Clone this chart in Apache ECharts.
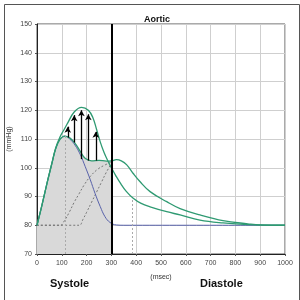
<!DOCTYPE html>
<html>
<head>
<meta charset="utf-8">
<script src="https://cdn.jsdelivr.net/npm/echarts@6/dist/echarts.min.js"></script>
<style>
  html, body { margin: 0; padding: 0; background: #fff; }
  #chart { width: 300px; height: 300px; }
</style>
</head>
<body>
<div id="chart"></div>
<script>
// pressure curves, [msec, mmHg]
const lowerCurve = [[0,80],[20,87],[40,94.5],[60,101.5],[75,106.5],[92,109.8],[112,111],[132,110.4],[153,108.6],[175,105.6],[195,103.2],[220,102.4],[250,102.6],[280,102.3],[300,102.4],[320,102.8],[340,102.4],[362,101],[388,98],[415,95.2],[456,91.7],[523,88.2],[577,85.8],[657,83.6],[750,81.6],[850,80.5],[900,80.1],[1000,80]]
const tallCurve = [[0,80],[20,87],[40,94.5],[60,101.5],[75,106.8],[93,110.8],[110,113.4],[124,115.6],[150,119.4],[180,121],[207,120],[225,117.5],[240,113.4],[255,109],[270,105.4],[288,102],[300,100],[318,97.2],[335,94.8],[360,91.8],[388,89.4],[420,87.6],[456,86.4],[523,84.7],[577,83.6],[657,81.8],[750,80.8],[850,80.2],[1000,80]]
const forwardWave = [[0,80],[20,87],[40,94.5],[60,101.5],[75,106.5],[92,109.8],[112,111],[132,110],[153,107.9],[175,104.5],[194,100.5],[215,95.8],[234,91.1],[255,86.5],[274,83],[294,81],[320,80.1],[350,80],[1000,80]]
const reflectedA = [[0,80],[95,80],[110,81.5],[130,84.5],[150,88],[170,91],[190,94],[215,97],[245,99.5],[275,101],[300,102]]
const reflectedB = [[0,80],[170,80],[185,82],[200,84.5],[220,88],[240,91.5],[260,95],[280,98.5],[300,101.5]]
const shaded = lowerCurve.filter(p => p[0] <= 300)

// arrows from lower curve up to the tall curve
const arrowX = [124, 150, 179, 207, 237]
const arrowBase = [110.5, 108.8, 103, 102.5, 102.5]
const arrowTip = [114.3, 118.3, 120, 118.6, 112.5]

// dotted markers
const markX = [115, 384]
const markTop = [111, 89.4]

const green = '#2f9a72'
const blue = '#5862aa'
const font = 'Liberation Sans, Arial, sans-serif'

const chart = echarts.init(document.getElementById('chart'))
chart.setOption({
  animation: false,
  backgroundColor: '#fff',
  title: {
    text: 'Aortic',
    left: 152,
    top: 10,
    textAlign: 'center',
    textStyle: { fontFamily: font, fontSize: 9, fontWeight: 'bold', color: '#111' }
  },
  grid: {
    left: 37, right: 15, top: 24, bottom: 46,
    outerBoundsMode: 'none', containLabel: false,
    show: true, borderColor: '#555', borderWidth: 1
  },
  xAxis: {
    type: 'value', min: 0, max: 1000, interval: 100,
    name: '(msec)', nameLocation: 'middle', nameGap: 20, nameMoveOverlap: false,
    nameTextStyle: { fontFamily: font, fontSize: 7, color: '#333' },
    axisLine: { lineStyle: { color: '#222' } },
    axisTick: { length: 2, lineStyle: { color: '#555' } },
    axisLabel: { fontFamily: font, fontSize: 7, color: '#444', margin: 6, formatter: v => String(v) },
    splitLine: { lineStyle: { color: '#cfcfcf' } }
  },
  yAxis: {
    type: 'value', min: 70, max: 150, interval: 10,
    name: '(mmHg)', nameLocation: 'middle', nameGap: 24, nameRotate: 90, nameMoveOverlap: false,
    nameTextStyle: { fontFamily: font, fontSize: 7, color: '#333' },
    axisLine: { show: true, lineStyle: { color: '#222' } },
    axisTick: { show: true, length: 2, lineStyle: { color: '#555' } },
    axisLabel: { fontFamily: font, fontSize: 7, color: '#444', margin: 5 },
    splitLine: { lineStyle: { color: '#cfcfcf' } }
  },
  series: [
    {
      type: 'line', data: shaded, smooth: 0.4, symbol: 'none',
      lineStyle: { width: 0 },
      areaStyle: { color: '#d9d9d9', opacity: 1, origin: 'start' },
      z: 1
    },
    {
      type: 'line', data: reflectedA, smooth: 0.4, symbol: 'none',
      lineStyle: { color: '#777', width: 1, type: [2, 2] }, z: 2
    },
    {
      type: 'line', data: reflectedB, smooth: 0.4, symbol: 'none',
      lineStyle: { color: '#777', width: 1, type: [2, 2] }, z: 2
    },
    {
      type: 'line', data: forwardWave, smooth: 0.4, symbol: 'none',
      lineStyle: { color: blue, width: 1 }, z: 3,
      markLine: {
        silent: true, symbol: 'none', label: { show: false },
        lineStyle: { color: '#aaa', width: 1, type: [2, 2] },
        data: markX.map((x, i) => [{ coord: [x, 70] }, { coord: [x, markTop[i]] }])
      }
    },
    {
      type: 'line', data: lowerCurve, smooth: 0.4, symbol: 'none',
      lineStyle: { color: green, width: 1.3 }, z: 4
    },
    {
      type: 'line', data: tallCurve, smooth: 0.4, symbol: 'none',
      lineStyle: { color: green, width: 1.3 }, z: 4,
      markLine: {
        silent: true, symbol: ['none', 'arrow'], symbolSize: [5, 6],
        label: { show: false },
        lineStyle: { color: '#000', width: 1.3, type: 'solid' },
        data: arrowX.map((x, i) => [{ coord: [x, arrowBase[i]] }, { coord: [x, arrowTip[i]] }])
      }
    },
    {
      type: 'line', data: [], symbol: 'none', z: 6,
      markLine: {
        silent: true, symbol: 'none', label: { show: false },
        lineStyle: { color: '#000', width: 2, type: 'solid' },
        data: [[{ coord: [300, 70] }, { coord: [300, 150] }]]
      }
    }
  ],
  graphic: [
    {
      type: 'rect', left: 2, top: 2,
      shape: { width: 295, height: 296 },
      style: { fill: 'none', stroke: '#555', lineWidth: 1 }
    },
    {
      type: 'text', left: 50, top: 278,
      style: { text: 'Systole', font: 'bold 11px ' + font, fill: '#111' }
    },
    {
      type: 'text', left: 200, top: 278,
      style: { text: 'Diastole', font: 'bold 11px ' + font, fill: '#111' }
    }
  ]
})
</script>
</body>
</html>
